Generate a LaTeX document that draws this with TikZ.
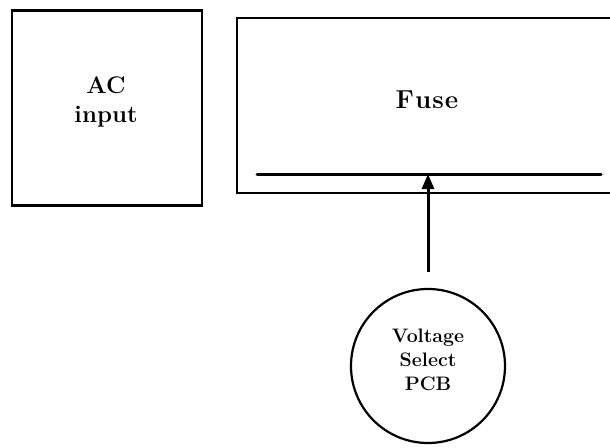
\documentclass[tikz,border=0pt]{standalone}
\usepackage{fontspec}
\setmainfont{Latin Modern Roman}
\usetikzlibrary{arrows.meta}
\begin{document}
\begin{tikzpicture}[x=1pt,y=-1pt,
  box/.style={draw,line width=2.8pt,rectangle,inner sep=0pt},
  bigtxt/.style={font=\fontsize{24}{29}\selectfont\bfseries,align=center,inner sep=0pt},
  fusetxt/.style={font=\fontsize{26}{29}\selectfont\bfseries,inner sep=0pt},
  smalltxt/.style={font=\fontsize{19.5}{24}\selectfont\bfseries,align=center,inner sep=0pt},
  conn/.style={line width=3pt,-{Triangle[length=15pt,width=12pt]}}]
\useasboundingbox (0,0) rectangle (610,447);
\clip (0,0) rectangle (610,447);
\node[box,minimum width=190pt,minimum height=195pt] (ac) at (107,108) {};
\node[bigtxt] (actext) at (106,102) {AC\\input};
\node[box,minimum width=383pt,minimum height=175pt] (fuse) at (428.5,105.5) {};
\node[fusetxt] (fusetext) at (427,100) {F\kern1pt u\kern1pt s\kern1pt e};
\coordinate (barL) at (257,174);
\coordinate (barR) at (601,174);
\coordinate (tip) at (428,174);
\draw[line width=3pt,line cap=round] (barL) -- (barR);
\node[draw,circle,line width=2.2pt,minimum size=154pt,inner sep=0pt] (vsel) at (428,366) {};
\node[smalltxt] (vtext) at (428,360) {Voltage\\Select\\PCB};
\draw[conn,shorten <=16pt] (vsel.north) -- (tip);
\end{tikzpicture}
\end{document}
